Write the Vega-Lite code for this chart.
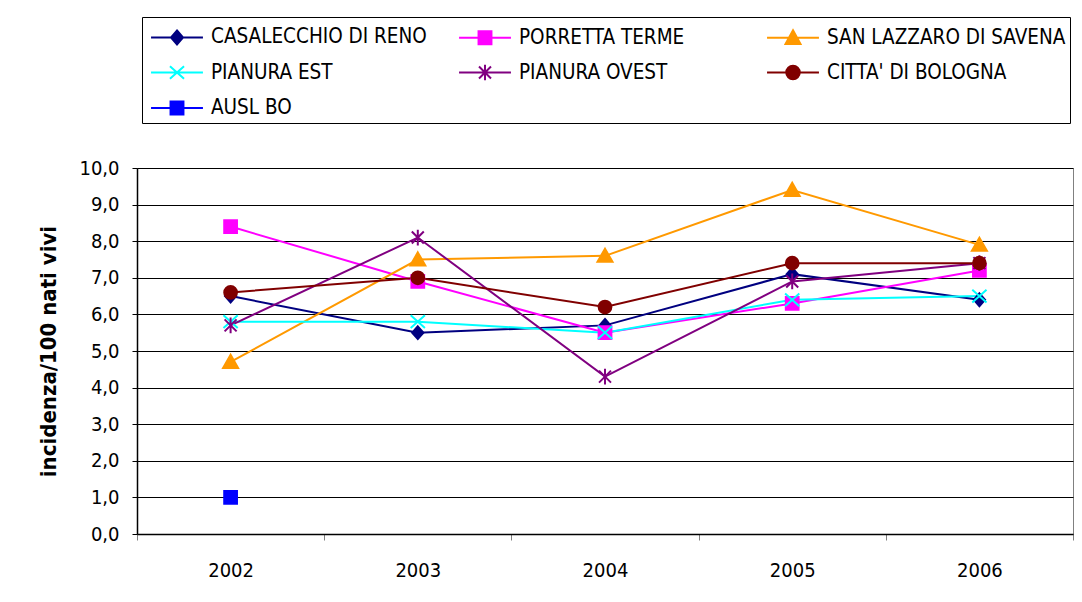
{
  "$schema": "https://vega.github.io/schema/vega-lite/v6.json",
  "autosize": "none",
  "width": 936,
  "height": 366,
  "padding": {"left": 137, "top": 168, "right": 9, "bottom": 68},
  "background": "#ffffff",
  "config": {
    "view": {"stroke": "#808080", "strokeWidth": 1},
    "font": "DejaVu Sans Condensed"
  },
  "data": {
    "values": [
      {"year": "2002", "series": "CASALECCHIO DI RENO", "value": 6.5},
      {"year": "2003", "series": "CASALECCHIO DI RENO", "value": 5.5},
      {"year": "2004", "series": "CASALECCHIO DI RENO", "value": 5.7},
      {"year": "2005", "series": "CASALECCHIO DI RENO", "value": 7.1},
      {"year": "2006", "series": "CASALECCHIO DI RENO", "value": 6.4},
      {"year": "2002", "series": "PORRETTA TERME", "value": 8.4},
      {"year": "2003", "series": "PORRETTA TERME", "value": 6.9},
      {"year": "2004", "series": "PORRETTA TERME", "value": 5.5},
      {"year": "2005", "series": "PORRETTA TERME", "value": 6.3},
      {"year": "2006", "series": "PORRETTA TERME", "value": 7.2},
      {"year": "2002", "series": "SAN LAZZARO DI SAVENA", "value": 4.7},
      {"year": "2003", "series": "SAN LAZZARO DI SAVENA", "value": 7.5},
      {"year": "2004", "series": "SAN LAZZARO DI SAVENA", "value": 7.6},
      {"year": "2005", "series": "SAN LAZZARO DI SAVENA", "value": 9.4},
      {"year": "2006", "series": "SAN LAZZARO DI SAVENA", "value": 7.9},
      {"year": "2002", "series": "PIANURA EST", "value": 5.8},
      {"year": "2003", "series": "PIANURA EST", "value": 5.8},
      {"year": "2004", "series": "PIANURA EST", "value": 5.5},
      {"year": "2005", "series": "PIANURA EST", "value": 6.4},
      {"year": "2006", "series": "PIANURA EST", "value": 6.5},
      {"year": "2002", "series": "PIANURA OVEST", "value": 5.7},
      {"year": "2003", "series": "PIANURA OVEST", "value": 8.1},
      {"year": "2004", "series": "PIANURA OVEST", "value": 4.3},
      {"year": "2005", "series": "PIANURA OVEST", "value": 6.9},
      {"year": "2006", "series": "PIANURA OVEST", "value": 7.4},
      {"year": "2002", "series": "CITTA' DI BOLOGNA", "value": 6.6},
      {"year": "2003", "series": "CITTA' DI BOLOGNA", "value": 7.0},
      {"year": "2004", "series": "CITTA' DI BOLOGNA", "value": 6.2},
      {"year": "2005", "series": "CITTA' DI BOLOGNA", "value": 7.4},
      {"year": "2006", "series": "CITTA' DI BOLOGNA", "value": 7.4},
      {"year": "2002", "series": "AUSL BO", "value": 1.0}
    ]
  },
  "encoding": {
    "x": {
      "field": "year", "type": "ordinal",
      "scale": {"paddingInner": 0, "paddingOuter": 0},
      "axis": {
        "title": null, "labelAngle": 0, "tickBand": "extent",
        "domainColor": "#000", "domainWidth": 1.5,
        "tickColor": "#808080", "tickSize": 6,
        "labelFont": "DejaVu Sans Condensed", "labelFontSize": 20, "labelColor": "#000",
        "labelPadding": 20, "grid": false
      }
    },
    "y": {
      "field": "value", "type": "quantitative",
      "scale": {"domain": [0, 10], "nice": false},
      "axis": {
        "values": [0, 1, 2, 3, 4, 5, 6, 7, 8, 9, 10],
        "labelExpr": "replace(format(datum.value, '.1f'), '.', ',')",
        "title": "incidenza/100 nati vivi",
        "titleFont": "DejaVu Sans Condensed", "titleFontSize": 22, "titleFontWeight": "bold", "titleColor": "#000",
        "titlePadding": 18,
        "labelFont": "DejaVu Sans Condensed", "labelFontSize": 20, "labelColor": "#000",
        "labelPadding": 13,
        "domainColor": "#000", "domainWidth": 1.5,
        "tickColor": "#000", "tickSize": 5,
        "grid": true, "gridColor": "#000", "gridWidth": 1
      }
    }
  },
  "layer": [
    {
      "mark": {"type": "line", "strokeWidth": 2},
      "encoding": {
        "color": {
          "field": "series", "type": "nominal", "legend": null,
          "scale": {
            "domain": ["CASALECCHIO DI RENO", "PORRETTA TERME", "SAN LAZZARO DI SAVENA", "PIANURA EST", "PIANURA OVEST", "CITTA' DI BOLOGNA", "AUSL BO"],
            "range": ["#000080", "#FF00FF", "#FF9900", "#00FFFF", "#800080", "#800000", "#0000FF"]
          }
        }
      }
    },
    {
      "mark": {"type": "point", "filled": true, "opacity": 1, "size": 225, "strokeWidth": 2},
      "encoding": {
        "color": {
          "field": "series", "type": "nominal", "legend": null,
          "scale": {
            "domain": ["CASALECCHIO DI RENO", "PORRETTA TERME", "SAN LAZZARO DI SAVENA", "PIANURA EST", "PIANURA OVEST", "CITTA' DI BOLOGNA", "AUSL BO"],
            "range": ["#000080", "#FF00FF", "#FF9900", "#00FFFF", "#800080", "#800000", "#0000FF"]
          }
        },
        "stroke": {
          "field": "series", "type": "nominal", "legend": null,
          "scale": {
            "domain": ["CASALECCHIO DI RENO", "PORRETTA TERME", "SAN LAZZARO DI SAVENA", "PIANURA EST", "PIANURA OVEST", "CITTA' DI BOLOGNA", "AUSL BO"],
            "range": ["#000080", "#FF00FF", "#FF9900", "#00FFFF", "#800080", "#800000", "#0000FF"]
          }
        },
        "shape": {
          "field": "series", "type": "nominal", "legend": null,
          "scale": {
            "domain": ["CASALECCHIO DI RENO", "PORRETTA TERME", "SAN LAZZARO DI SAVENA", "PIANURA EST", "PIANURA OVEST", "CITTA' DI BOLOGNA", "AUSL BO"],
            "range": [
              "M0,-0.85L0.75,0L0,0.85L-0.75,0Z",
              "M-0.85,-0.85H0.85V0.85H-0.85Z",
              "M0,-0.95L1,0.8L-1,0.8Z",
              "M-0.95,-0.85L0.95,0.85M-0.95,0.85L0.95,-0.85",
              "M-0.8,-0.8L0.8,0.8M-0.8,0.8L0.8,-0.8M0,-1.05L0,1.05",
              "M-0.85,0A0.85,0.85,0,1,1,0.85,0A0.85,0.85,0,1,1,-0.85,0Z",
              "M-0.85,-0.85H0.85V0.85H-0.85Z"
            ]
          }
        }
      }
    },
    {
      "transform": [{"filter": "false"}],
      "mark": {"type": "point", "filled": true, "opacity": 1, "strokeWidth": 2},
      "encoding": {
        "color": {
          "field": "series", "type": "nominal",
          "scale": {
            "domain": ["CASALECCHIO DI RENO", "PORRETTA TERME", "SAN LAZZARO DI SAVENA", "PIANURA EST", "PIANURA OVEST", "CITTA' DI BOLOGNA", "AUSL BO"],
            "range": ["#000080", "#FF00FF", "#FF9900", "#00FFFF", "#800080", "#800000", "#0000FF"]
          },
          "legend": {
            "title": null, "orient": "none", "legendX": 5, "legendY": -151,
            "direction": "horizontal", "columns": 3, "gridAlign": "all",
            "strokeColor": "#000", "padding": 4,
            "symbolSize": 900, "symbolStrokeWidth": 2, "symbolOpacity": 1, "symbolOffset": 15,
            "labelFont": "DejaVu Sans Condensed", "labelFontSize": 20.5, "labelColor": "#000",
            "labelOffset": 18, "labelLimit": 400,
            "columnPadding": 4, "rowPadding": 7.5
          }
        },
        "stroke": {
          "field": "series", "type": "nominal",
          "scale": {
            "domain": ["CASALECCHIO DI RENO", "PORRETTA TERME", "SAN LAZZARO DI SAVENA", "PIANURA EST", "PIANURA OVEST", "CITTA' DI BOLOGNA", "AUSL BO"],
            "range": ["#000080", "#FF00FF", "#FF9900", "#00FFFF", "#800080", "#800000", "#0000FF"]
          }
        },
        "shape": {
          "field": "series", "type": "nominal",
          "scale": {
            "domain": ["CASALECCHIO DI RENO", "PORRETTA TERME", "SAN LAZZARO DI SAVENA", "PIANURA EST", "PIANURA OVEST", "CITTA' DI BOLOGNA", "AUSL BO"],
            "range": [
              "M-1.73,0L1.73,0M0,-0.47L0.4,0L0,0.47L-0.4,0Z",
              "M-1.73,0L1.73,0M-0.43,-0.43H0.43V0.43H-0.43Z",
              "M-1.73,0L1.73,0M0,-0.5L0.5,0.42L-0.5,0.42Z",
              "M-1.73,0L1.73,0M-0.47,-0.42L0.47,0.42M-0.47,0.42L0.47,-0.42",
              "M-1.73,0L1.73,0M-0.4,-0.4L0.4,0.4M-0.4,0.4L0.4,-0.4M0,-0.52L0,0.52",
              "M-1.73,0L1.73,0M-0.45,0A0.45,0.45,0,1,1,0.45,0A0.45,0.45,0,1,1,-0.45,0Z",
              "M-1.73,0L1.73,0M-0.43,-0.43H0.43V0.43H-0.43Z"
            ]
          }
        }
      }
    }
  ],
  "resolve": {"scale": {"color": "independent", "shape": "independent", "stroke": "independent"}}
}
